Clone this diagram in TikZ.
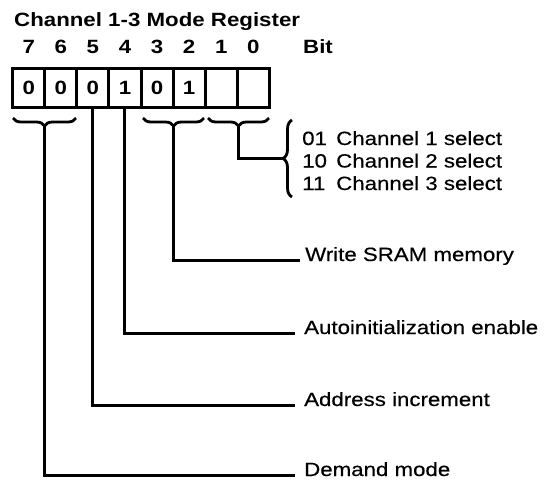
\documentclass[tikz,border=0pt]{standalone}
\usepackage{fontspec}
\setmainfont{Liberation Sans}[FakeStretch=1.16, UprightFeatures={FakeBold=0.4}]
\usetikzlibrary{decorations.pathreplacing,calc}
\begin{document}
\begin{tikzpicture}[x=1pt,y=-1pt,
  every node/.style={inner sep=0pt, font=\fontsize{19.2}{22}\selectfont},
  boldtext/.style={font=\fontsize{19.2}{22}\selectfont\bfseries},
  cell/.style={draw, line width=3pt, minimum width=32.08pt, minimum height=39pt, boldtext},
  bitnum/.style={anchor=base, boldtext},
  lbl/.style={anchor=base west},
  wire/.style={line width=3pt},
  curly/.style={line width=2.8pt, decorate, decoration={brace, amplitude=8pt}}]
\useasboundingbox (0,0) rectangle (556,479);

% title and bit header
\node[lbl, boldtext] (title) at (14,26.5) {Channel 1-3 Mode Register};
\node[lbl, boldtext] (bit) at (303,53.5) {Bit};

% register cells with bit numbers above
\foreach \b/\v [count=\i from 0] in {7/0,6/0,5/0,4/1,3/0,2/1,1/,0/} {
  \node[cell] (c\b) at ({12.7+32.08*(\i+0.5)},87.5) {\v};
  \node[bitnum] (n\b) at ({12.7+32.08*(\i+0.5)},53.5) {\b};
}

% braces grouping bit fields
\draw[curly] (76,118) -- (13,118);
\coordinate (t76) at (44.8,126);
\draw[curly] (204,118) -- (143,118);
\coordinate (t32) at (173.4,126);
\draw[curly] (269,118) -- (208,118);
\coordinate (t10) at (238.6,126);
\draw[curly, decoration={brace, amplitude=9pt}] (292,197) -- (292,120);
\coordinate (rbtip) at (283,158.5);

% field descriptions
\node[lbl] (s1) at (302,145) {01};
\node[lbl] (s1t) at (336,145) {Channel 1 select};
\node[lbl] (s2) at (302,167.5) {10};
\node[lbl] (s2t) at (336,167.5) {Channel 2 select};
\node[lbl] (s3) at (302,190) {11};
\node[lbl] (s3t) at (336,190) {Channel 3 select};
\node[lbl] (ws) at (305,261) {Write SRAM memory};
\node[lbl] (ae) at (304,334) {Autoinitialization enable};
\node[lbl] (ai) at (304,406) {Address increment};
\node[lbl] (dm) at (304,476) {Demand mode};

% leader lines
\draw[wire] (t10) |- (rbtip);
\draw[wire] (t32) |- ([shift={(-5pt,1pt)}]ws.base west);
\draw[wire] (c4.south) |- ([shift={(-9pt,1pt)}]ae.base west);
\draw[wire] (c5.south) |- ([shift={(-9pt,1pt)}]ai.base west);
\draw[wire] (t76) |- ([shift={(-9pt,1pt)}]dm.base west);
\end{tikzpicture}
\end{document}
